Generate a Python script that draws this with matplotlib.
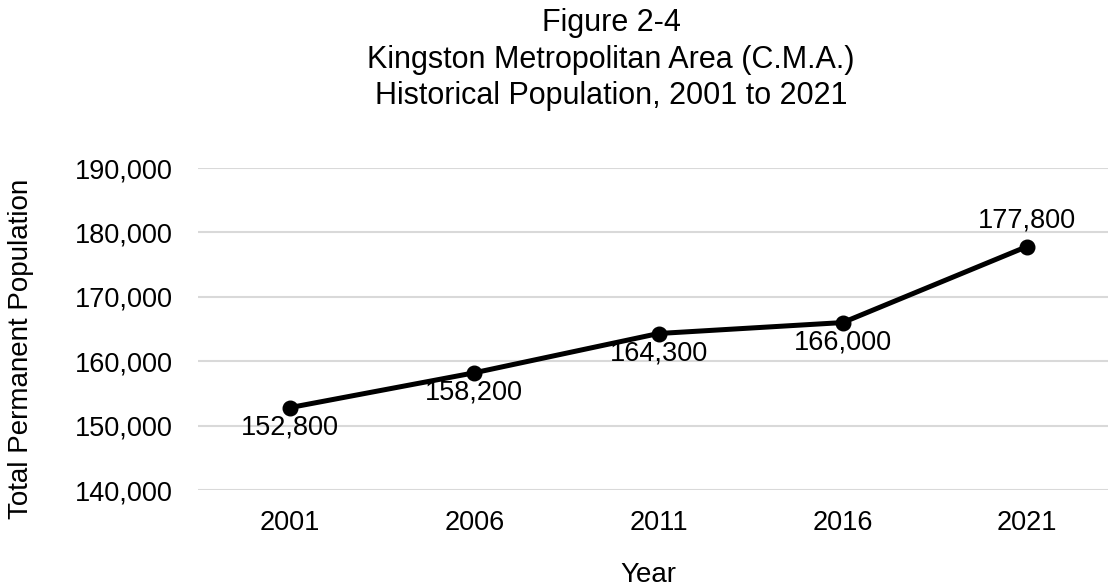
import matplotlib
matplotlib.use("Agg")
import matplotlib.pyplot as plt
from matplotlib.ticker import FuncFormatter

plt.rcParams['font.family'] = ['Liberation Sans', 'DejaVu Sans']

years = ['2001', '2006', '2011', '2016', '2021']
population = [152800, 158200, 164300, 166000, 177800]
label_above = [False, False, False, False, True]

W, H = 1108, 588
fig = plt.figure(figsize=(W / 100, H / 100), dpi=100)
# plot box in pixels: left 198, right edge of figure, top 168, bottom 490
ax = fig.add_axes([198 / W, 1 - 490 / H, (W - 198) / W, (490 - 168) / H])

x = range(len(years))
ax.plot(x, population, color='black', lw=3.6, marker='o', ms=10.5, solid_capstyle='round')

for i, v in enumerate(population):
    dy = 26 if label_above[i] else -20
    ax.annotate(f'{v:,}', (i, v), xytext=(0, dy * 0.72), textcoords='offset points',
                ha='center', va='center', fontsize=19.5)

# category spacing ~184 px, first point 92 px in from the left edge
ax.set_xlim(-0.5, 4.44)
ax.set_ylim(140000, 190000)
ax.set_yticks(range(140000, 190001, 10000))
ax.yaxis.set_major_formatter(FuncFormatter(lambda v, p: f'{int(v):,}'))
ax.set_xticks(list(x))
ax.set_xticklabels(years)
ax.tick_params(axis='both', length=0, labelsize=19.5)
ax.tick_params(axis='y', pad=18)
ax.tick_params(axis='x', pad=14.5)
ax.grid(axis='y', color='#d9d9d9', lw=1.5)
ax.set_axisbelow(True)
for s in ax.spines.values():
    s.set_visible(False)

fig.text(21 / W, 1 - 349 / H, 'Total Permanent Population', rotation=90,
         ha='center', va='center', fontsize=20)
fig.text(648 / W, 1 - 575 / H, 'Year', ha='center', va='center', fontsize=20)

title_lines = ['Figure 2-4', 'Kingston Metropolitan Area (C.M.A.)',
               'Historical Population, 2001 to 2021']
title_y = [22.5, 60, 96]
for line, ty in zip(title_lines, title_y):
    fig.text(611 / W, 1 - ty / H, line, ha='center', va='center', fontsize=22)

fig.savefig('out.png', dpi=100)
